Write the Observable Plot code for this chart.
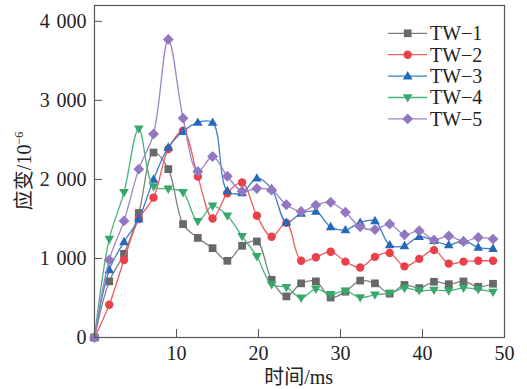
<!DOCTYPE html>
<html><head><meta charset="utf-8">
<script src="https://cdn.jsdelivr.net/npm/d3@7"></script>
<script src="https://cdn.jsdelivr.net/npm/@observablehq/plot@0.6"></script>
<style>
body{margin:0;background:#fff;}
#chart{position:relative;width:527px;height:389px;}
</style></head><body><div id="chart"></div>
<script>
// time (ms) of each sample
const times = [0,1.8,3.6,5.4,7.2,9.0,10.8,12.6,14.4,16.2,18.0,19.8,21.6,23.4,25.2,27.0,28.8,30.6,32.4,34.2,36.0,37.8,39.6,41.4,43.2,45.0,46.8,48.6];
const seriesNames = ["TW−1","TW−2","TW−3","TW−4","TW−5"];
const tw1 = [0,710,1060,1575,2340,2130,1435,1260,1130,970,1160,1215,730,520,685,710,505,580,720,685,555,665,625,705,675,709,642,680];
const tw2 = [0,415,980,1500,1770,2385,2615,2035,1505,1825,1960,1540,1275,1450,970,1015,1085,960,885,1020,1070,900,995,1105,935,960,970,970];
const tw3 = [0,855,1210,1500,2000,2405,2605,2720,2720,1855,1830,2015,1880,1455,1570,1595,1400,1360,1455,1475,1170,1160,1275,1225,1170,1225,1140,1125];
const tw4 = [0,1245,1835,2640,1910,1880,1835,1470,1665,1540,1280,1025,670,635,500,615,545,590,505,540,560,625,595,600,592,628,610,575];
const tw5 = [0,980,1475,2130,2575,3770,2775,2100,2290,2040,1850,1885,1865,1680,1595,1675,1710,1585,1400,1365,1435,1300,1350,1235,1285,1215,1265,1245];
const seriesValues = [tw1,tw2,tw3,tw4,tw5];
const xTicks = [10,20,30,40,50];
const yTicks = [0,1000,2000,3000,4000];

const markerColors = ["#686868","#e9404a","#2668b9","#37a86b","#9477c1"];
const lineColors   = ["#808080","#ee5c62","#3f7cc6","#49b27c","#9d84c8"];

// custom marker shapes (size = pi*r^2)
const sq = {draw(c,s){const r=Math.sqrt(s/Math.PI)*0.92;c.rect(-r,-r,2*r,2*r);}};
const ci = {draw(c,s){const r=Math.sqrt(s/Math.PI);c.moveTo(r,0);c.arc(0,0,r,0,2*Math.PI);}};
const tu = {draw(c,s){const r=Math.sqrt(s/Math.PI);c.moveTo(0,-1.2*r);c.lineTo(1.15*r,0.8*r);c.lineTo(-1.15*r,0.8*r);c.closePath();}};
const td = {draw(c,s){const r=Math.sqrt(s/Math.PI);c.moveTo(0,1.2*r);c.lineTo(1.15*r,-0.8*r);c.lineTo(-1.15*r,-0.8*r);c.closePath();}};
const di = {draw(c,s){const r=Math.sqrt(s/Math.PI)*1.3;c.moveTo(0,-r);c.lineTo(r,0);c.lineTo(0,r);c.lineTo(-r,0);c.closePath();}};
const symbols = [sq,ci,tu,td,di];

const FONT = '"Liberation Serif","Noto Sans CJK SC",serif';

const marks = [];
seriesValues.forEach((vals,s)=>{
  const data = vals.map((v,i)=>({t:times[i], v}));
  marks.push(Plot.line(data,{x:"t",y:"v",stroke:lineColors[s],strokeWidth:1.3,curve:"catmull-rom"}));
  marks.push(Plot.dot(data,{x:"t",y:"v",symbol:symbols[s],r:4.2,fill:markerColors[s],stroke:"none"}));
});

const fmt = d => d3.format(",")(d).replace(/,/g,"\u2004");

const chart = Plot.plot({
  width:527, height:389,
  marginLeft:94, marginRight:23, marginTop:5, marginBottom:52,
  style:{fontFamily:FONT, fontSize:"20px", color:"#222", background:"#fff"},
  x:{domain:[0,50]},
  y:{domain:[0,4200]},
  marks:[
    ...marks,
    Plot.frame({stroke:"#555",strokeWidth:1.2}),
    Plot.axisX({ticks:xTicks, tickSize:0, tickPadding:8, label:null, fontSize:20}),
    Plot.axisX({ticks:xTicks, tickSize:8, dy:-8, tickFormat:()=>"", label:null, stroke:"#555"}),
    Plot.axisY({ticks:yTicks, tickSize:0, tickPadding:8, tickFormat:fmt, label:null, fontSize:20}),
    Plot.axisY({ticks:yTicks, tickSize:8, dx:8, tickFormat:()=>"", label:null, stroke:"#555"})
  ]
});
document.getElementById("chart").appendChild(chart);

const svg = d3.select(chart);
// axis titles
svg.append("text").attr("x",298.7).attr("y",384).attr("text-anchor","middle")
  .attr("font-family",FONT).attr("font-size",20).attr("fill","#222").text("时间/ms");
const yt = svg.append("text").attr("transform","translate(31,171) rotate(-90)").attr("text-anchor","middle")
  .attr("font-family",FONT).attr("font-size",20).attr("fill","#222");
yt.append("tspan").text("应变/10");
yt.append("tspan").attr("font-size",12).attr("dy",-8).text("−6");

// legend
const lg = svg.append("g");
seriesNames.forEach((name,s)=>{
  const cy = 33.3 + s*21.4;
  lg.append("line").attr("x1",388).attr("x2",427).attr("y1",cy).attr("y2",cy)
    .attr("stroke",lineColors[s]).attr("stroke-width",1.3);
  const p = d3.path(); symbols[s].draw(p, Math.PI*4.2*4.2);
  lg.append("path").attr("d",p.toString()).attr("transform",`translate(407.7,${cy})`).attr("fill",markerColors[s]);
  lg.append("text").attr("x",430).attr("y",cy).attr("dy","0.34em").attr("text-anchor","start")
    .attr("font-family",FONT).attr("font-size",20).attr("fill","#222").text(name);
});
</script></body></html>
